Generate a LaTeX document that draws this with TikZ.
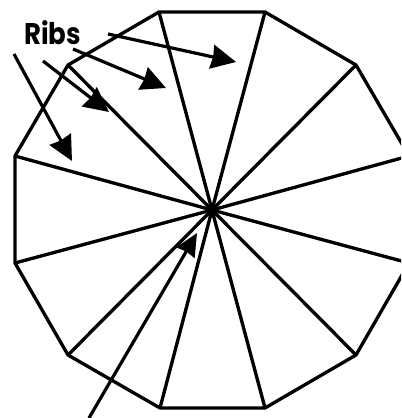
\documentclass[tikz,border=0pt]{standalone}
\usepackage{fontspec}
\setmainfont{Poppins}
\usetikzlibrary{arrows.meta}
\tikzset{
  edge/.style={line width=2.5pt,line join=miter,black},
  rib/.style={line width=2.5pt,black},
  pointer/.style={line width=2.4pt,black,-{Stealth[length=18.5pt,width=18pt,inset=1pt]}},
  small pointer/.style={line width=2.4pt,black,-{Stealth[length=17pt,width=15.5pt,inset=1pt]}},
  label text/.style={font=\fontsize{19.5pt}{22pt}\selectfont\bfseries,inner sep=0pt,yscale=1.15,transform shape}
}
\begin{document}
\begin{tikzpicture}[x=0.75pt,y=-0.75pt]
\useasboundingbox (0,0) rectangle (401,418);
\clip (0,0) rectangle (401,418);
\coordinate (c) at (212,210);
\coordinate (v1) at (159,12);
\coordinate (v2) at (265,12);
\coordinate (v3) at (356,65);
\coordinate (v4) at (409,156);
\coordinate (v5) at (409,263);
\coordinate (v6) at (356,355);
\coordinate (v7) at (265,408);
\coordinate (v8) at (160,408);
\coordinate (v9) at (68,355);
\coordinate (v10) at (15,263);
\coordinate (v11) at (15,156);
\coordinate (v12) at (68,65);
\draw[edge] (v1)--(v2)--(v3)--(v4)--(v5)--(v6)--(v7)--(v8)--(v9)--(v10)--(v11)--(v12)--cycle;
\foreach \i in {1,...,12}{\draw[rib] (c)--(v\i);}
\node[label text,anchor=base west] (ribs) at (24,44) {Ribs};
\coordinate (a1s) at (108,34); \coordinate (a1e) at (236,62);
\coordinate (a2s) at (73,49);  \coordinate (a2e) at (166,88);
\coordinate (a3s) at (43,61);  \coordinate (a3e) at (109,112);
\coordinate (a4s) at (14,54);  \coordinate (a4e) at (72,161);
\coordinate (a5s) at (89,418); \coordinate (a5e) at (197,233);
\draw[pointer] (a1s)--(a1e);
\draw[pointer] (a2s)--(a2e);
\draw[pointer] (a3s)--(a3e);
\draw[pointer] (a4s)--(a4e);
\draw[small pointer] (a5s)--(a5e);
\end{tikzpicture}
\end{document}
